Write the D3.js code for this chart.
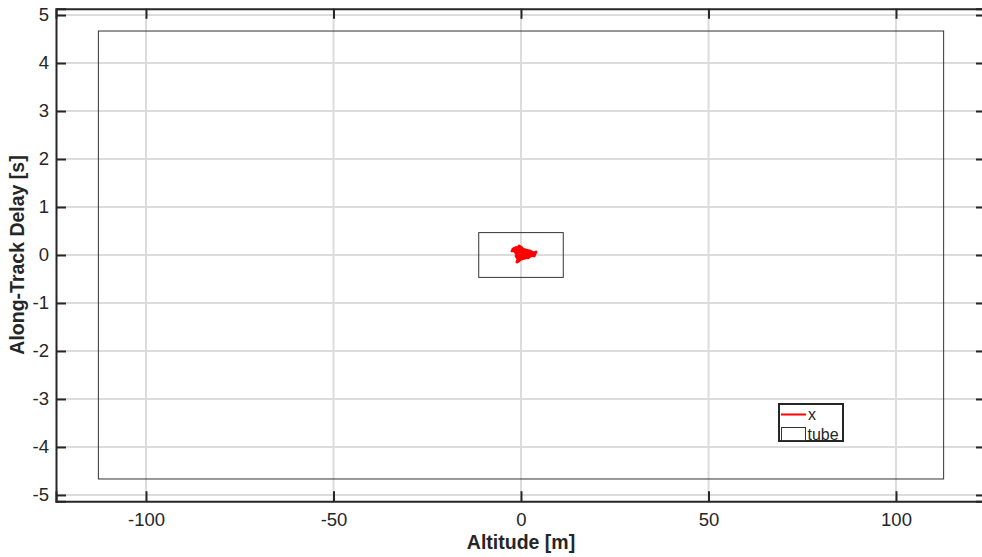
<!DOCTYPE html>
<html>
<head>
<meta charset="utf-8">
<script src="https://cdn.jsdelivr.net/npm/d3@7"></script>
<style>
  html, body { margin: 0; padding: 0; background: #fff; }
  svg { display: block; }
  text { font-family: Arial, "Liberation Sans", Helvetica, sans-serif; fill: #262626; }
</style>
</head>
<body>
<svg id="chart" width="982" height="557"></svg>
<script>
// Axis limits and ticks
const xDomain = [-124, 124];
const yDomain = [-5.13, 5.13];
const xTicks = [-100, -50, 0, 50, 100];
const yTicks = [-5, -4, -3, -2, -1, 0, 1, 2, 3, 4, 5];

// Tube bounds (outer tube and inner tube)
const tubeOuter = { xHalf: 112.7, yHalf: 4.667 };
const tubeInner = { xHalf: 11.27, yHalf: 0.4667 };

// Trajectory x: altitude [m] and along-track delay [s]
const trajAlt = [-1.07, -2.13, -2.40, -1.33, -0.53, 0.27, -0.27, 0.80, 1.60, 2.40, 3.20, 4.00, 3.47, 2.40, 1.60, 0.80, 0.00, -0.53, -1.33, -0.80, -1.07, -0.27, 0.27, 1.33, 2.13, 2.93, 1.87, 0.53, -0.27, -1.60, -0.80, 1.07, 2.67, 3.73, 2.9, 1.4, 0.2, -0.9, -1.8, -1.2, -0.4, 0.9, 2.2, 3.3, 2.6, 1.2, 0.1, -0.6, 0.6, 1.9, 3.0, 2.0, 0.4, -0.9];
const trajDelay = [0.167, 0.125, 0.083, 0.104, 0.188, 0.146, 0.0625, 0.104, 0.0625, 0.083, 0.042, 0.0625, -0.021, 0.0, -0.042, -0.021, -0.0625, 0.0, -0.021, -0.083, -0.146, -0.104, -0.042, 0.021, 0.021, 0.0, -0.0625, 0.021, 0.104, 0.0625, 0.042, 0.083, 0.042, 0.021, 0.03, 0.01, 0.05, 0.12, 0.1, 0.02, -0.03, 0.05, 0.06, 0.03, -0.02, -0.02, 0.08, 0.13, 0.12, 0.09, 0.06, -0.04, -0.08, -0.04];

const svg = d3.select("#chart");
const pL = 56, pR = 986, pT = 8.8, pB = 501.2;

const x = d3.scaleLinear().domain(xDomain).range([pL, pR]);
const y = d3.scaleLinear().domain(yDomain).range([pB, pT]);

const axisColor = "#262626";

// Grid lines
const grid = svg.append("g");
grid.selectAll("line.gx").data(xTicks).join("line")
  .attr("x1", d => x(d)).attr("x2", d => x(d))
  .attr("y1", pT).attr("y2", pB)
  .attr("stroke", "#dcdcdc").attr("stroke-width", 2);
grid.selectAll("line.gy").data(yTicks).join("line")
  .attr("x1", pL).attr("x2", pR)
  .attr("y1", d => y(d)).attr("y2", d => y(d))
  .attr("stroke", "#dcdcdc").attr("stroke-width", 2);

// Tube rectangles
function tubeRect(t, color) {
  svg.append("rect")
    .attr("x", x(-t.xHalf)).attr("y", y(t.yHalf))
    .attr("width", x(t.xHalf) - x(-t.xHalf))
    .attr("height", y(-t.yHalf) - y(t.yHalf))
    .attr("fill", "none").attr("stroke", color).attr("stroke-width", 1);
}
tubeRect(tubeOuter, "#333");
tubeRect(tubeInner, "#333");

// Trajectory
const traj = trajAlt.map((a, i) => [a, trajDelay[i]]);
svg.append("path")
  .datum(traj)
  .attr("d", d3.line().x(d => x(d[0])).y(d => y(d[1])))
  .attr("fill", "none").attr("stroke", "#ff0000")
  .attr("stroke-width", 2.8).attr("stroke-linejoin", "round");

// Axes: ticks pointing inward, mirrored on top and right
const fmt = d => d < 0 ? "-" + Math.abs(d) : String(d);
const xAxisB = d3.axisBottom(x).tickValues(xTicks).tickSize(-10).tickPadding(12).tickFormat(fmt);
const xAxisT = d3.axisTop(x).tickValues(xTicks).tickSize(-10).tickFormat("");
const yAxisL = d3.axisLeft(y).tickValues(yTicks).tickSize(-10).tickPadding(7).tickFormat(fmt);
const yAxisR = d3.axisRight(y).tickValues(yTicks).tickSize(-10).tickFormat("");

function styleAxis(g) {
  g.select(".domain").attr("stroke", axisColor).attr("stroke-width", 2);
  g.selectAll(".tick line").attr("stroke", axisColor).attr("stroke-width", 2);
  g.selectAll(".tick text").attr("fill", axisColor).style("font-size", "18.5px")
    .style("font-family", "Arial, 'Liberation Sans', sans-serif");
}
svg.append("g").attr("transform", `translate(0,${pB})`).call(xAxisB).call(styleAxis);
svg.append("g").attr("transform", `translate(0,${pT})`).call(xAxisT).call(styleAxis);
svg.append("g").attr("transform", `translate(${pL},0)`).call(yAxisL).call(styleAxis);
svg.append("g").attr("transform", `translate(${pR},0)`).call(yAxisR).call(styleAxis);

// Axis labels
svg.append("text")
  .attr("x", x(0)).attr("y", 549)
  .attr("text-anchor", "middle")
  .style("font-size", "19.5px").style("font-weight", "bold")
  .text("Altitude [m]");
svg.append("text")
  .attr("transform", `translate(24,${y(0)}) rotate(-90)`)
  .attr("text-anchor", "middle")
  .style("font-size", "19.5px").style("font-weight", "bold")
  .text("Along-Track Delay [s]");

// Legend
const lg = svg.append("g").attr("transform", "translate(779,404)");
lg.append("rect").attr("x", 0).attr("y", 0).attr("width", 64).attr("height", 37)
  .attr("fill", "#fff").attr("stroke", axisColor).attr("stroke-width", 2);
lg.append("line").attr("x1", 2).attr("x2", 27).attr("y1", 10.5).attr("y2", 10.5)
  .attr("stroke", "#ff0000").attr("stroke-width", 2);
lg.append("text").attr("x", 29).attr("y", 16).style("font-size", "16px").text("x");
lg.append("rect").attr("x", 2.5).attr("y", 23.5).attr("width", 24).attr("height", 13)
  .attr("fill", "#fff").attr("stroke", "#333").attr("stroke-width", 1);
lg.append("text").attr("x", 28.5).attr("y", 36).style("font-size", "16px").text("tube");
</script>
</body>
</html>
